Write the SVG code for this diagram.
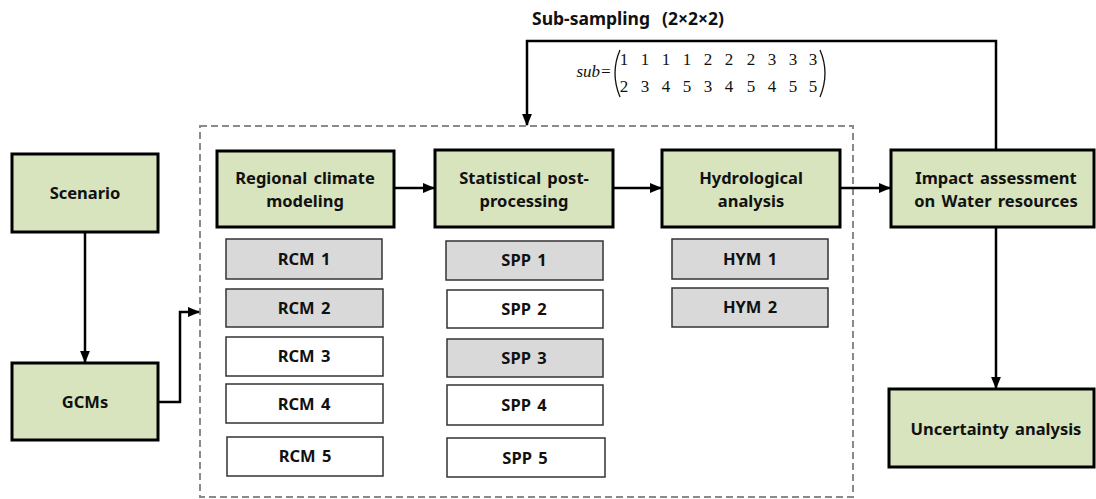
<svg xmlns="http://www.w3.org/2000/svg" width="1096" height="499" viewBox="0 0 1096 499">
<defs>
<style>
.main{fill:#d7e4bd;stroke:#000;stroke-width:3}
.sub{stroke:#333;stroke-width:1.5}
.g{fill:#d9d9d9}
.w{fill:#fff}
text{font-family:"Noto Sans","Open Sans",sans-serif;font-weight:bold;font-size:16.5px;fill:#111;text-anchor:middle;word-spacing:2px}
.m{font-family:"Liberation Serif",serif;font-weight:normal;font-size:17px}
.conn{fill:none;stroke:#000;stroke-width:2.5}
</style>
<marker id="ah" viewBox="0 0 10 10" refX="9" refY="5" markerWidth="5" markerHeight="5" orient="auto" markerUnits="strokeWidth"><path d="M0,1L10,5L0,9z" fill="#000"/></marker>
</defs>
<rect width="1096" height="499" fill="#fff"/>
<rect id="frame" x="200" y="126" width="653" height="371" fill="none" stroke="#8a8a8a" stroke-width="2" stroke-dasharray="7,4"/>
<g id="connectors">
<path class="conn" d="M85,232V362" marker-end="url(#ah)"/>
<path class="conn" d="M158,402H180V312H199" marker-end="url(#ah)"/>
<path class="conn" d="M394,188H434" marker-end="url(#ah)"/>
<path class="conn" d="M613,188H661" marker-end="url(#ah)"/>
<path class="conn" d="M840,188H890" marker-end="url(#ah)"/>
<path class="conn" d="M996,227V388" marker-end="url(#ah)"/>
<path class="conn" d="M996,150V41H527V125" marker-end="url(#ah)"/>
</g>
<text y="25" style="text-anchor:start;font-size:17.5px"><tspan x="532">Sub-sampling</tspan><tspan x="662">(2×2×2)</tspan></text>
<g id="matrix">
<text class="m" x="594" y="77" font-style="italic" text-anchor="middle">sub=</text>
<path d="M620,50Q610,73 620,97" fill="none" stroke="#111" stroke-width="1.3"/>
<path d="M820,50Q830,73 820,97" fill="none" stroke="#111" stroke-width="1.3"/>
<text class="m" y="65"><tspan x="624">1</tspan><tspan x="645">1</tspan><tspan x="666">1</tspan><tspan x="687">1</tspan><tspan x="708">2</tspan><tspan x="729">2</tspan><tspan x="751">2</tspan><tspan x="772">3</tspan><tspan x="793">3</tspan><tspan x="813">3</tspan></text>
<text class="m" y="92"><tspan x="624">2</tspan><tspan x="645">3</tspan><tspan x="666">4</tspan><tspan x="687">5</tspan><tspan x="708">3</tspan><tspan x="729">4</tspan><tspan x="751">5</tspan><tspan x="772">4</tspan><tspan x="793">5</tspan><tspan x="813">5</tspan></text>
</g>
<g id="scenario"><rect class="main" x="12" y="154" width="146" height="78"/><text x="85" y="199">Scenario</text></g>
<g id="gcms"><rect class="main" x="12" y="363" width="146" height="77"/><text x="85" y="408">GCMs</text></g>
<g id="rcm"><rect class="main" x="217" y="151" width="177" height="76"/><text x="305" y="184">Regional climate</text><text x="305" y="207">modeling</text></g>
<g id="spp"><rect class="main" x="435" y="150" width="178" height="77"/><text x="524" y="184">Statistical post-</text><text x="524" y="207">processing</text></g>
<g id="hydro"><rect class="main" x="662" y="150" width="178" height="77"/><text x="751" y="184">Hydrological</text><text x="751" y="207">analysis</text></g>
<g id="impact"><rect class="main" x="891" y="150" width="203" height="77"/><text x="996" y="184">Impact assessment</text><text x="996" y="207">on Water resources</text></g>
<g id="uncertainty"><rect class="main" x="889" y="389" width="205" height="78"/><text x="996" y="435">Uncertainty analysis</text></g>
<g id="rcm1"><rect class="sub g" x="226" y="239" width="156" height="40"/><text x="304" y="265">RCM 1</text></g>
<g id="rcm2"><rect class="sub g" x="226" y="289" width="157" height="38"/><text x="304" y="314">RCM 2</text></g>
<g id="rcm3"><rect class="sub w" x="226" y="337" width="157" height="39"/><text x="304" y="362">RCM 3</text></g>
<g id="rcm4"><rect class="sub w" x="226" y="384" width="157" height="39"/><text x="304" y="410">RCM 4</text></g>
<g id="rcm5"><rect class="sub w" x="227" y="437" width="156" height="39"/><text x="305" y="462">RCM 5</text></g>
<g id="spp1"><rect class="sub g" x="446" y="241" width="157" height="39"/><text x="524" y="266">SPP 1</text></g>
<g id="spp2"><rect class="sub w" x="447" y="290" width="156" height="38"/><text x="524" y="315">SPP 2</text></g>
<g id="spp3"><rect class="sub g" x="447" y="339" width="156" height="38"/><text x="524" y="364">SPP 3</text></g>
<g id="spp4"><rect class="sub w" x="447" y="385" width="156" height="40"/><text x="524" y="411">SPP 4</text></g>
<g id="spp5"><rect class="sub w" x="447" y="438" width="158" height="39"/><text x="525" y="464">SPP 5</text></g>
<g id="hym1"><rect class="sub g" x="672" y="239" width="156" height="40"/><text x="750" y="265">HYM 1</text></g>
<g id="hym2"><rect class="sub g" x="672" y="288" width="156" height="39"/><text x="750" y="313">HYM 2</text></g>
</svg>
